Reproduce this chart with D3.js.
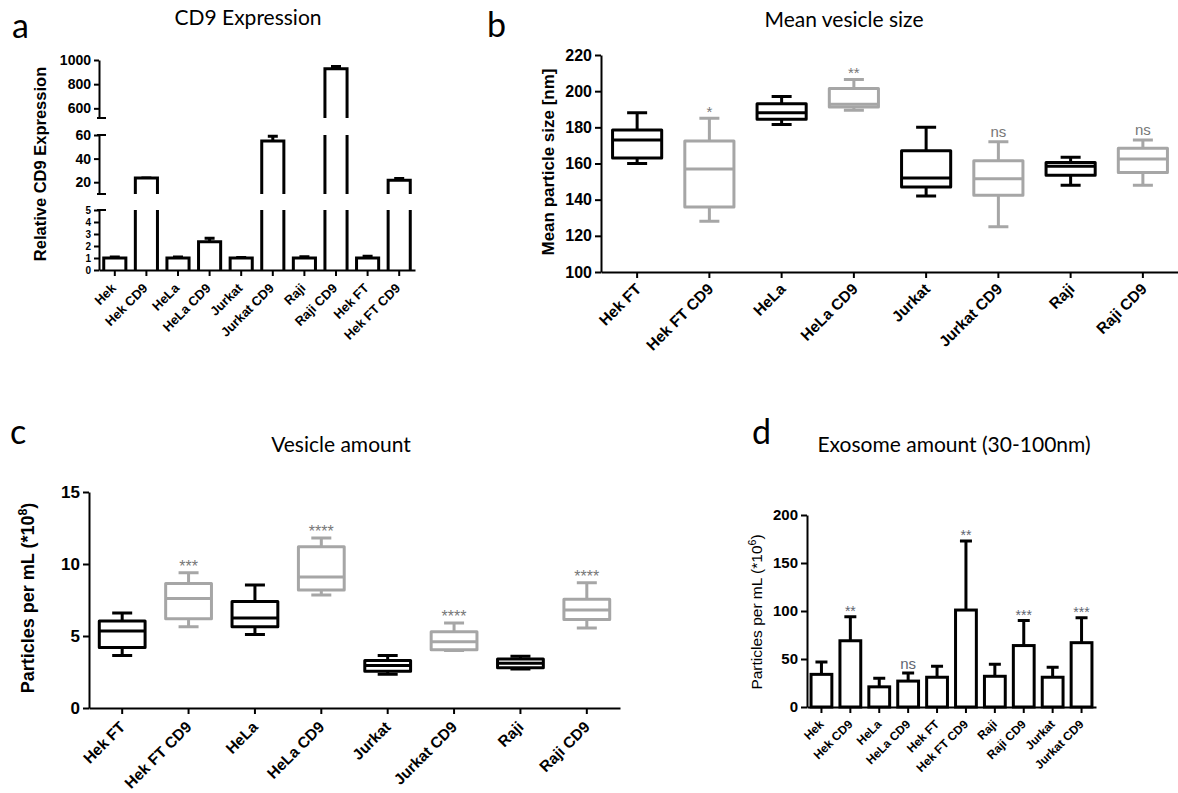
<!DOCTYPE html>
<html>
<head>
<meta charset="utf-8">
<script src="https://cdn.jsdelivr.net/npm/d3@7"></script>
<style>
  body { margin: 0; background: #fff; }
</style>
</head>
<body>
<div id="figure"></div>
<script>
// ---- data ----

// a: CD9 expression, bars with broken y axis
var cd9Cats = ["Hek", "Hek CD9", "HeLa", "HeLa CD9", "Jurkat", "Jurkat CD9", "Raji", "Raji CD9", "Hek FT", "Hek FT CD9"];
var cd9Mean = [1.0, 23.5, 1.0, 2.35, 1.0, 55, 1.0, 928, 1.0, 21.7];
var cd9Err = [0.08, 0.3, 0.08, 0.3, 0.05, 4, 0.1, 18, 0.15, 1.5];
var cd9Segments = [[0, 5], [10, 60], [520, 1000]];
var cd9Ticks = [[0, 1, 2, 3, 4, 5], [20, 40, 60], [600, 800, 1000]];

// b: mean vesicle size, box plots
var sizeCats = ["Hek FT", "Hek FT CD9", "HeLa", "HeLa CD9", "Jurkat", "Jurkat CD9", "Raji", "Raji CD9"];
var sizeMin = [160, 128, 181.5, 189.5, 142, 125, 148, 148];
var sizeQ1 = [163, 136, 184.5, 191.3, 147, 142.5, 153.5, 155];
var sizeMed = [173, 157, 188, 192.8, 152, 151.5, 158.5, 162.5];
var sizeQ3 = [178.5, 172.5, 193, 201.5, 167, 161.5, 160.5, 168.5];
var sizeMax = [188, 185, 197, 206.5, 180, 172, 163.5, 173];
var sizeSig = ["", "*", "", "**", "", "ns", "", "ns"];
var sizeTicks = [100, 120, 140, 160, 180, 200, 220];

// c: vesicle amount, box plots
var amtCats = ["Hek FT", "Hek FT CD9", "HeLa", "HeLa CD9", "Jurkat", "Jurkat CD9", "Raji", "Raji CD9"];
var amtMin = [3.65, 5.65, 5.1, 7.85, 2.35, 4.0, 2.7, 5.55];
var amtQ1 = [4.2, 6.2, 5.65, 8.2, 2.55, 4.05, 2.8, 6.15];
var amtMed = [5.35, 7.6, 6.25, 9.1, 2.95, 4.6, 3.1, 6.8];
var amtQ3 = [6.05, 8.65, 7.4, 11.2, 3.3, 5.3, 3.4, 7.55];
var amtMax = [6.6, 9.4, 8.55, 11.8, 3.65, 5.9, 3.6, 8.7];
var amtSig = ["", "***", "", "****", "", "****", "", "****"];
var amtTicks = [0, 5, 10, 15];

// d: exosome amount, bars with SD
var exoCats = ["Hek", "Hek CD9", "HeLa", "HeLa CD9", "Hek FT", "Hek FT CD9", "Raji", "Raji CD9", "Jurkat", "Jurkat CD9"];
var exoMean = [34, 69, 21, 27, 31, 101, 32, 64, 31, 67];
var exoErr = [13, 25, 9, 8.5, 11.5, 72, 12.5, 26, 10.5, 26];
var exoSig = ["", "**", "", "ns", "", "**", "", "***", "", "***"];
var exoTicks = [0, 50, 100, 150, 200];

// ---- styles ----
var sans = "Liberation Sans, Arial, sans-serif";
var titleFont = "Lato, Open Sans, sans-serif";
var grey = "#a6a6a6";
var sigColor = "#777";

var svg = d3.select("#figure")
  .append("svg")
  .attr("width", 1178)
  .attr("height", 793)
  .style("display", "block");

function styleAxis(g, size) {
  g.attr("font-family", sans).attr("font-size", size).attr("font-weight", "bold");
  g.selectAll("path, line").attr("stroke", "#000").attr("stroke-width", 2);
}

// x axis, labels turned 45 degrees with their end under the tick
function xAxis(x, axisY, size, dx, dy) {
  var ax = svg.append("g")
    .attr("transform", "translate(0," + axisY + ")")
    .call(d3.axisBottom(x).tickSize(6).tickSizeOuter(0).tickFormat(""));
  styleAxis(ax, size);
  svg.append("g").selectAll("g")
    .data(x.domain())
    .enter()
    .append("g")
    .attr("transform", function (d) {
      return "translate(" + (x(d) + x.bandwidth() / 2 + dx) + "," + (axisY + dy) + ") rotate(-45)";
    })
    .append("text")
    .attr("text-anchor", "end")
    .attr("font-family", sans)
    .attr("font-size", size)
    .attr("font-weight", "bold")
    .text(function (d) { return d; });
}

function panelText(x, y, txt, font, size, anchor) {
  return svg.append("text")
    .attr("x", x).attr("y", y)
    .attr("font-family", font)
    .attr("font-size", size)
    .attr("text-anchor", anchor || "start")
    .attr("fill", "#000")
    .text(txt);
}

function yLabel(x, y, size, weight, main, sup, tail) {
  var t = svg.append("text")
    .attr("transform", "translate(" + x + "," + y + ") rotate(-90)")
    .attr("text-anchor", "middle")
    .attr("dy", "0.35em")
    .attr("font-family", sans)
    .attr("font-size", size)
    .attr("font-weight", weight);
  t.append("tspan").text(main);
  if (sup) {
    t.append("tspan").attr("font-size", size * 0.68).attr("dy", -size * 0.4).text(sup);
    t.append("tspan").attr("dy", size * 0.4).text(tail);
  }
}

// box plot helper
function drawBoxes(x, y, cats, mins, q1s, meds, q3s, maxs, sig, sigSize) {
  var rows = cats.map(function (c, i) {
    return { cat: c, min: mins[i], q1: q1s[i], med: meds[i], q3: q3s[i], max: maxs[i], sig: sig[i], col: i % 2 ? grey : "#000" };
  });
  var bw = x.bandwidth();
  var g = svg.append("g").selectAll("g")
    .data(rows)
    .enter()
    .append("g")
    .attr("fill", "none")
    .attr("stroke", function (d) { return d.col; })
    .attr("stroke-width", 3)
    .attr("stroke-linejoin", "round");

  g.append("path").attr("d", function (d) {
    var cx = x(d.cat) + bw / 2;
    return "M" + cx + "," + y(d.q3) + "V" + y(d.max) + "M" + (cx - 10) + "," + y(d.max) + "H" + (cx + 10) +
      "M" + cx + "," + y(d.q1) + "V" + y(d.min) + "M" + (cx - 10) + "," + y(d.min) + "H" + (cx + 10);
  });
  g.append("rect")
    .attr("x", function (d) { return x(d.cat); })
    .attr("width", bw)
    .attr("y", function (d) { return y(d.q3); })
    .attr("height", function (d) { return y(d.q1) - y(d.q3); })
    .attr("fill", "#fff");
  g.append("line")
    .attr("x1", function (d) { return x(d.cat); })
    .attr("x2", function (d) { return x(d.cat) + bw; })
    .attr("y1", function (d) { return y(d.med); })
    .attr("y2", function (d) { return y(d.med); });

  svg.append("g").selectAll("text")
    .data(rows.filter(function (d) { return d.sig; }))
    .enter()
    .append("text")
    .attr("x", function (d) { return x(d.cat) + bw / 2; })
    .attr("y", function (d) { return y(d.max) - (d.sig === "ns" ? 5 : 1); })
    .attr("text-anchor", "middle")
    .attr("font-family", sans)
    .attr("font-size", sigSize)
    .attr("fill", sigColor)
    .text(function (d) { return d.sig; });
}

// ================= panel a =================
panelText(12, 38, "a", titleFont, 34);
panelText(248, 25, "CD9 Expression", titleFont, 21, "middle");

var xA = d3.scaleBand().domain(cd9Cats).range([99, 415]).paddingInner(0.3).paddingOuter(0.15);
var segRanges = [[270, 210], [194, 135], [118, 60]];
var segScales = cd9Segments.map(function (dom, i) {
  return d3.scaleLinear().domain(dom).range(segRanges[i]);
});

segScales.forEach(function (s, i) {
  var ax = svg.append("g")
    .attr("transform", "translate(99,0)")
    .call(d3.axisLeft(s).tickValues(cd9Ticks[i]).tickFormat(d3.format("d"))
      .tickSize(5).tickSizeOuter(0).tickPadding(3));
  // the 0-5 segment is very short, keep its labels small enough to stack
  styleAxis(ax, i === 0 ? 10 : 14);
});

// break marks on the y axis
[118, 135, 194, 210].forEach(function (yy) {
  svg.append("line")
    .attr("x1", 97).attr("x2", 106)
    .attr("y1", yy).attr("y2", yy)
    .attr("stroke", "#000").attr("stroke-width", 2);
});

// bars, drawn piece by piece in every segment they reach
cd9Cats.forEach(function (c, i) {
  var v = cd9Mean[i], e = cd9Err[i];
  var l = xA(c), r = xA(c) + xA.bandwidth(), cx = l + xA.bandwidth() / 2;
  segScales.forEach(function (s) {
    var dom = s.domain();
    if (v <= dom[0]) return;
    var yb = s(dom[0]);
    var d;
    if (v <= dom[1]) {
      var yt = s(v);
      var ye = s(Math.min(v + e, dom[1]));
      d = "M" + l + "," + yb + "V" + yt + "H" + r + "V" + yb +
        "M" + cx + "," + yt + "V" + ye + "M" + (cx - 5) + "," + ye + "H" + (cx + 5);
    } else {
      var top = s(dom[1]);
      d = "M" + l + "," + yb + "V" + top + "M" + r + "," + top + "V" + yb;
    }
    svg.append("path")
      .attr("d", d)
      .attr("fill", "none")
      .attr("stroke", "#000")
      .attr("stroke-width", 3);
  });
});

xAxis(xA, 270, 13, 2, 19);
yLabel(40, 164, 16.5, "bold", "Relative CD9 Expression");

// ================= panel b =================
panelText(487, 37, "b", titleFont, 34);
panelText(844, 27, "Mean vesicle size", titleFont, 21, "middle");

var xB = d3.scaleBand().domain(sizeCats).range([601, 1179]).paddingInner(0.32).paddingOuter(0.16);
var yB = d3.scaleLinear().domain([100, 220]).range([272, 55]);

var ayB = svg.append("g")
  .attr("transform", "translate(601,0)")
  .call(d3.axisLeft(yB).tickValues(sizeTicks).tickSize(6).tickSizeOuter(0).tickPadding(3));
styleAxis(ayB, 16);

drawBoxes(xB, yB, sizeCats, sizeMin, sizeQ1, sizeMed, sizeQ3, sizeMax, sizeSig, 15);
xAxis(xB, 272, 15.5, 5, 18);
yLabel(548, 162, 17, "bold", "Mean particle size [nm]");

// ================= panel c =================
panelText(10, 444, "c", titleFont, 34);
panelText(341, 452, "Vesicle amount", titleFont, 21, "middle");

var xC = d3.scaleBand().domain(amtCats).range([89, 620]).paddingInner(0.31).paddingOuter(0.155);
var yC = d3.scaleLinear().domain([0, 15]).range([708, 492]);

var ayC = svg.append("g")
  .attr("transform", "translate(89,0)")
  .call(d3.axisLeft(yC).tickValues(amtTicks).tickSize(6).tickSizeOuter(0).tickPadding(3));
styleAxis(ayC, 17);

drawBoxes(xC, yC, amtCats, amtMin, amtQ1, amtMed, amtQ3, amtMax, amtSig, 16);
xAxis(xC, 708, 15.5, 4, 20);
yLabel(28, 598, 18, "bold", "Particles per mL (*10", "8", ")");

// ================= panel d =================
panelText(752, 444, "d", titleFont, 34);
panelText(954, 452, "Exosome amount (30-100nm)", titleFont, 21, "middle");

var xD = d3.scaleBand().domain(exoCats).range([807, 1096]).paddingInner(0.28).paddingOuter(0.14);
var yD = d3.scaleLinear().domain([0, 200]).range([707, 515]);

var ayD = svg.append("g")
  .attr("transform", "translate(807,0)")
  .call(d3.axisLeft(yD).tickValues(exoTicks).tickSize(6).tickSizeOuter(0).tickPadding(3));
styleAxis(ayD, 15);

var barsD = svg.append("g").selectAll("g")
  .data(exoCats)
  .enter()
  .append("g")
  .attr("stroke", "#000")
  .attr("stroke-width", 3)
  .attr("fill", "none");

barsD.append("path")
  .attr("d", function (c, i) {
    var cx = xD(c) + xD.bandwidth() / 2;
    var yt = yD(exoMean[i]), ye = yD(exoMean[i] + exoErr[i]);
    return "M" + cx + "," + yt + "V" + ye + "M" + (cx - 6) + "," + ye + "H" + (cx + 6);
  });
barsD.append("rect")
  .attr("x", function (c) { return xD(c); })
  .attr("width", xD.bandwidth())
  .attr("y", function (c, i) { return yD(exoMean[i]); })
  .attr("height", function (c, i) { return yD(0) - yD(exoMean[i]); })
  .attr("fill", "#fff");

svg.append("g").selectAll("text")
  .data(exoCats)
  .enter()
  .append("text")
  .attr("x", function (c) { return xD(c) + xD.bandwidth() / 2; })
  .attr("y", function (c, i) { return yD(exoMean[i] + exoErr[i]) - (exoSig[i] === "ns" ? 4 : 1); })
  .attr("text-anchor", "middle")
  .attr("font-family", sans)
  .attr("font-size", function (c, i) { return exoSig[i] === "ns" ? 15 : 14; })
  .attr("fill", "#5f6672")
  .text(function (c, i) { return exoSig[i]; });

xAxis(xD, 707, 12, 3, 18);
yLabel(757, 612, 15.5, "normal", "Particles per mL (*10", "6", ")");
</script>
</body>
</html>
